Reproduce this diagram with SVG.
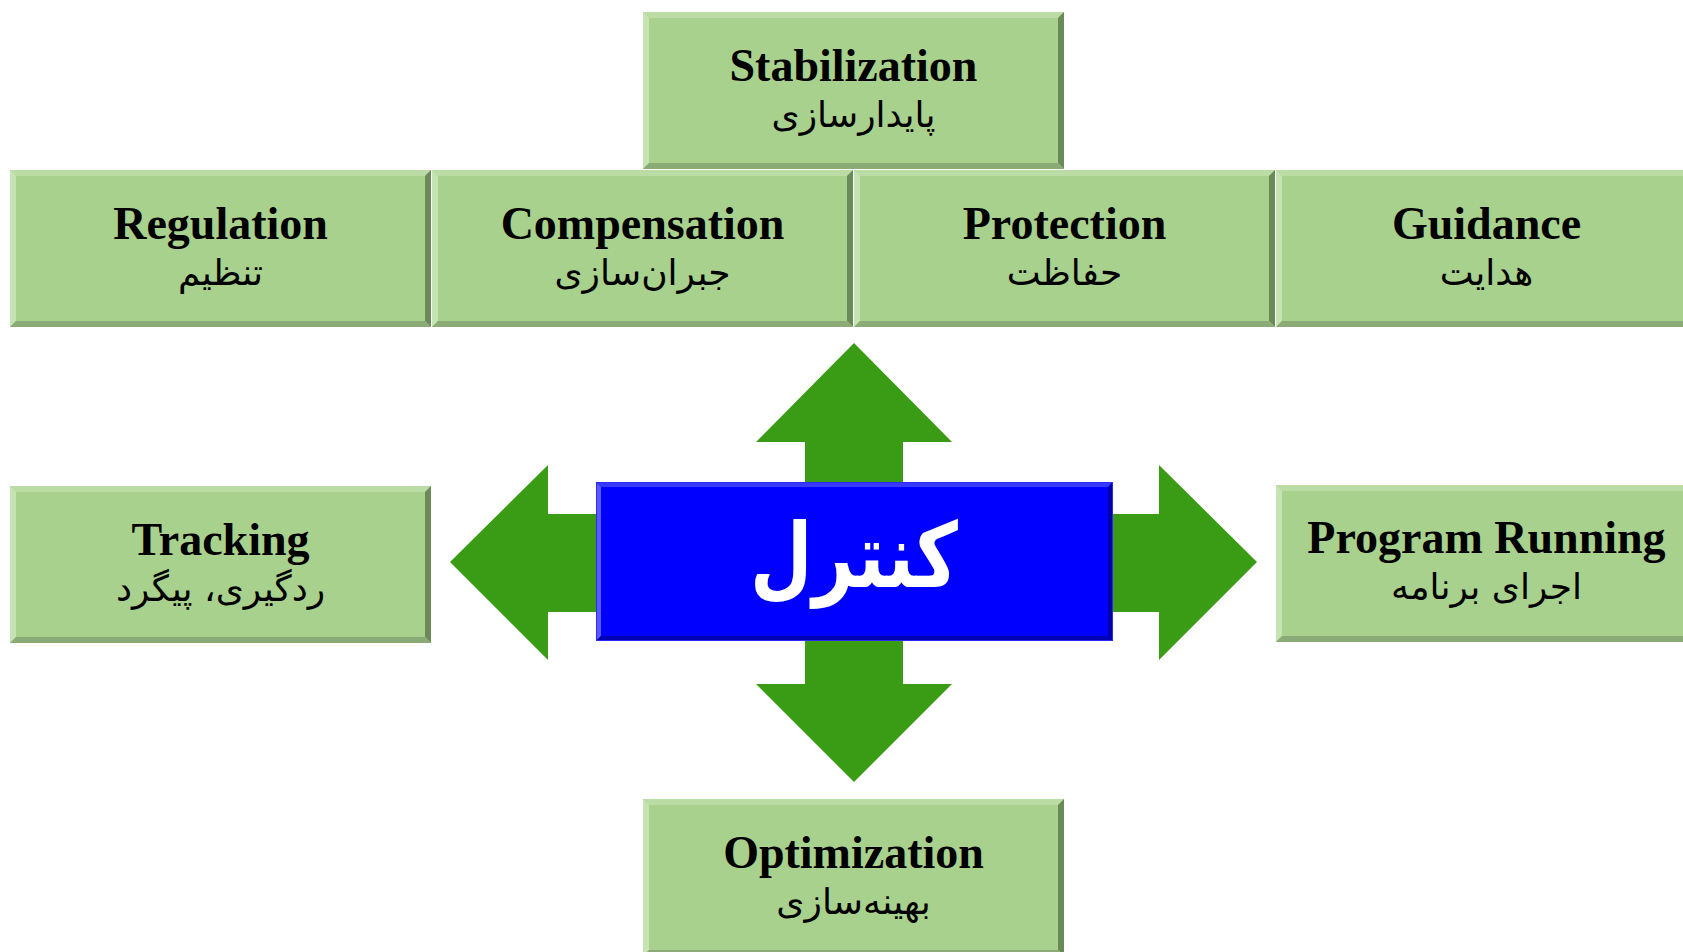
<svg xmlns="http://www.w3.org/2000/svg" width="1683" height="952" viewBox="0 0 1683 952">
<defs>
<style>
.en{font-family:"Liberation Serif","Times New Roman",serif;font-weight:bold;font-size:46px;fill:#000;text-anchor:middle}
.fa{font-family:"DejaVu Sans","Noto Sans",sans-serif;font-size:36px;fill:#000;text-anchor:middle;direction:rtl}
.ctr{font-family:"DejaVu Sans","Noto Sans",sans-serif;font-size:90px;font-weight:bold;fill:#fff;text-anchor:middle;direction:rtl}
.arr{fill:#3A9C15}
</style>
<g id="gb">
<rect x="0" y="0" width="421" height="157" fill="#A9D18E"/>
<polygon points="0,0 421,0 415,6 6,6" fill="#BCDCA6"/>
<polygon points="0,0 6,6 6,151 0,157" fill="#C6E3B4"/>
<polygon points="421,0 421,157 415,151 415,6" fill="#6A8A58"/>
<polygon points="0,157 421,157 415,151 6,151" fill="#8BAB76"/>
</g>
</defs>
<rect width="1683" height="952" fill="#fff"/>
<g id="connectors">
<polygon class="arr" points="854,343 952,442 903,442 903,562 805,562 805,442 756,442"/>
<polygon class="arr" points="805,562 903,562 903,684 952,684 854,782 756,684 805,684"/>
<polygon class="arr" points="450,562 548,465 548,514 854,514 854,612 548,612 548,660"/>
<polygon class="arr" points="1257,562 1159,660 1159,612 854,612 854,514 1159,514 1159,465"/>
</g>
<g id="stabilization"><use href="#gb" x="643" y="12"/>
<text class="en" x="853.5" y="81">Stabilization</text><text class="fa" x="853.5" y="127">پایدارسازی</text></g>
<g id="regulation"><use href="#gb" x="10" y="170"/>
<text class="en" x="220.5" y="239">Regulation</text><text class="fa" x="220.5" y="285">تنظیم</text></g>
<g id="compensation"><use href="#gb" x="432" y="170"/>
<text class="en" x="642.5" y="239">Compensation</text><text class="fa" x="642.5" y="285">جبران‌سازی</text></g>
<g id="protection"><use href="#gb" x="854" y="170"/>
<text class="en" x="1064.5" y="239">Protection</text><text class="fa" x="1064.5" y="285">حفاظت</text></g>
<g id="guidance"><use href="#gb" x="1276" y="170"/>
<text class="en" x="1486.5" y="239">Guidance</text><text class="fa" x="1486.5" y="285">هدایت</text></g>
<g id="tracking"><use href="#gb" x="10" y="486"/>
<text class="en" x="220.5" y="555">Tracking</text><text class="fa" x="220.5" y="601">ردگیری، پیگرد</text></g>
<g id="program-running"><use href="#gb" x="1276" y="485"/>
<text class="en" x="1486.5" y="553">Program Running</text><text class="fa" x="1486.5" y="599">اجرای برنامه</text></g>
<g id="optimization"><use href="#gb" x="643" y="799"/>
<text class="en" x="853.5" y="868">Optimization</text><text class="fa" x="853.5" y="914">بهینه‌سازی</text></g>
<g id="control">
<rect x="596" y="482" width="517" height="159" fill="#0000FF"/>
<polygon points="596,482 1113,482 1108,487 601,487" fill="#3838FF"/>
<polygon points="596,482 601,487 601,636 596,641" fill="#5A5AFF"/>
<polygon points="1113,482 1113,641 1108,636 1108,487" fill="#0000A8"/>
<polygon points="596,641 1113,641 1108,636 601,636" fill="#0000B4"/>
<rect x="596.5" y="482.5" width="516" height="158" fill="none" stroke="#2A2AFF" stroke-width="1"/>
<text class="ctr" transform="translate(854,587) scale(0.8,1)" x="0" y="0">کنترل</text>
</g>
</svg>
